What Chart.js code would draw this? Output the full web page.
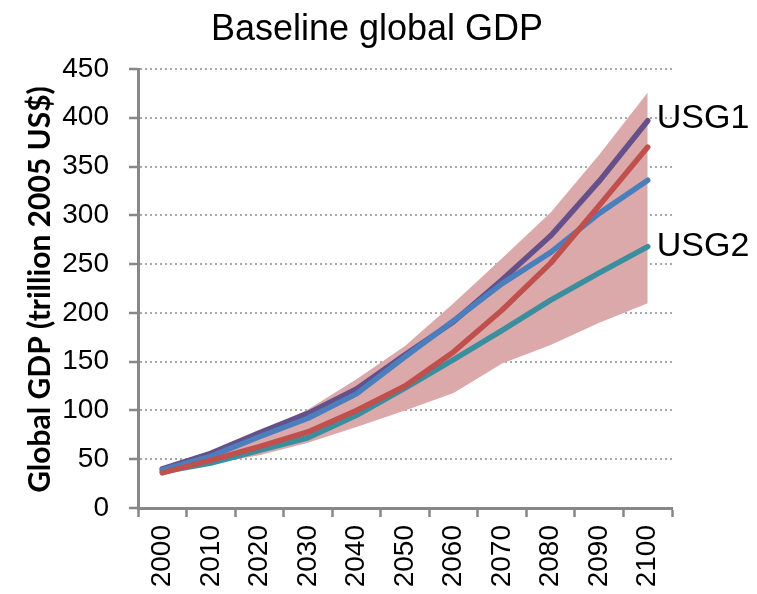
<!DOCTYPE html>
<html>
<head>
<meta charset="utf-8">
<script src="https://cdn.jsdelivr.net/npm/chart.js@4/dist/chart.umd.min.js"></script>
<style>
  html, body { margin: 0; padding: 0; background: #ffffff; }
  #wrap { width: 757px; height: 594px; }
</style>
</head>
<body>
<div id="wrap"><canvas id="gdp" width="757" height="594"></canvas></div>
<script>
// Global GDP projections, trillion 2005 US$
const years = ['2000', '2010', '2020', '2030', '2040', '2050', '2060', '2070', '2080', '2090', '2100'];
const yTicks = [0, 50, 100, 150, 200, 250, 300, 350, 400, 450];

const usg1 = [40, 56, 77, 97, 122, 157, 191, 234, 279, 335, 397];
const blueSeries = [39, 53, 73, 92, 117, 155, 192, 230, 262, 302, 336];
const redSeries = [36, 49, 63, 78, 100, 125, 160, 203, 251, 310, 370];
const usg2 = [37, 46, 59, 72, 95, 123, 152, 182, 213, 241, 268];
const rangeHigh = [41, 56, 78, 101, 132, 166, 210, 256, 303, 362, 426];
const rangeLow = [35, 45, 54, 67, 83, 100, 118, 148, 167, 190, 210];

const seriesNames = ['USG1', 'USG2'];
const chartTitle = 'Baseline global GDP';
const yTitle = 'Global GDP (trillion 2005 US$)';

const AXIS = '#878787';
const BAND = '#dba9a9';
const SANS = '"Liberation Sans", Arial, sans-serif';

function lineSet(label, data, color) {
  return {
    label, data,
    borderColor: color,
    backgroundColor: color,
    borderWidth: 5.5,
    pointRadius: 0,
    tension: 0,
    fill: false,
    borderCapStyle: 'round',
    borderJoinStyle: 'round'
  };
}

// Chart title, rotated axis title and end-of-line series labels
const textPlugin = {
  id: 'texts',
  afterDraw(chart) {
    const ctx = chart.ctx;
    const x = chart.scales.x, y = chart.scales.y;
    const area = chart.chartArea;
    ctx.save();
    ctx.fillStyle = '#000000';
    ctx.font = '36px ' + SANS;
    ctx.textAlign = 'center';
    ctx.textBaseline = 'alphabetic';
    ctx.fillText(chartTitle, 377, 40);

    const last = years.length - 1;
    ctx.textAlign = 'left';
    ctx.textBaseline = 'middle';
    ctx.font = '34px ' + SANS;
    ctx.fillText(seriesNames[0], x.getPixelForValue(last) + 9, y.getPixelForValue(usg1[last]) - 2);
    ctx.fillText(seriesNames[1], x.getPixelForValue(last) + 9, y.getPixelForValue(usg2[last]));

    ctx.translate(40, (area.top + area.bottom) / 2 + 1);
    ctx.rotate(-Math.PI / 2);
    ctx.textAlign = 'center';
    ctx.font = 'bold 30px Lato, "Open Sans", sans-serif';
    ctx.fillText(yTitle, 0, 0);
    ctx.restore();
  }
};

new Chart(document.getElementById('gdp'), {
  type: 'line',
  data: {
    labels: years,
    // first dataset is painted on top
    datasets: [
      lineSet('red', redSeries, '#c0504d'),
      lineSet('blue', blueSeries, '#4a7ebd'),
      lineSet('usg1', usg1, '#66508a'),
      lineSet('usg2', usg2, '#3a8e9e'),
      { label: 'high', data: rangeHigh, borderWidth: 0, pointRadius: 0, fill: '+1', backgroundColor: BAND, tension: 0 },
      { label: 'low', data: rangeLow, borderWidth: 0, pointRadius: 0, fill: false, tension: 0 }
    ]
  },
  options: {
    responsive: false,
    devicePixelRatio: 1,
    animation: false,
    layout: { padding: { top: 69, right: 85, left: 0, bottom: 0 } },
    plugins: { legend: { display: false }, tooltip: { enabled: false }, title: { display: false } },
    scales: {
      x: {
        type: 'category',
        offset: true,
        grid: { offset: true, drawOnChartArea: false, drawTicks: true, tickLength: 9, tickColor: AXIS, tickWidth: 2.5 },
        border: { color: AXIS, width: 3 },
        ticks: {
          color: '#000000',
          font: { family: SANS, size: 28 },
          minRotation: 90, maxRotation: 90,
          padding: 8,
          autoSkip: false
        },
        afterFit(scale) { scale.height = 86; }
      },
      y: {
        min: 0, max: 450,
        afterBuildTicks(scale) { scale.ticks = yTicks.map(v => ({ value: v })); },
        grid: {
          color: '#a8a8a8', lineWidth: 2,
          drawTicks: true, tickLength: 9, tickColor: AXIS, tickWidth: 2.5, tickBorderDash: [1, 0]
        },
        border: { color: AXIS, width: 3, dash: [2, 3] },
        ticks: {
          color: '#000000',
          font: { family: SANS, size: 28 },
          padding: 20
        },
        afterFit(scale) { scale.width = 138; }
      }
    }
  },
  plugins: [textPlugin]
});
</script>
</body>
</html>
